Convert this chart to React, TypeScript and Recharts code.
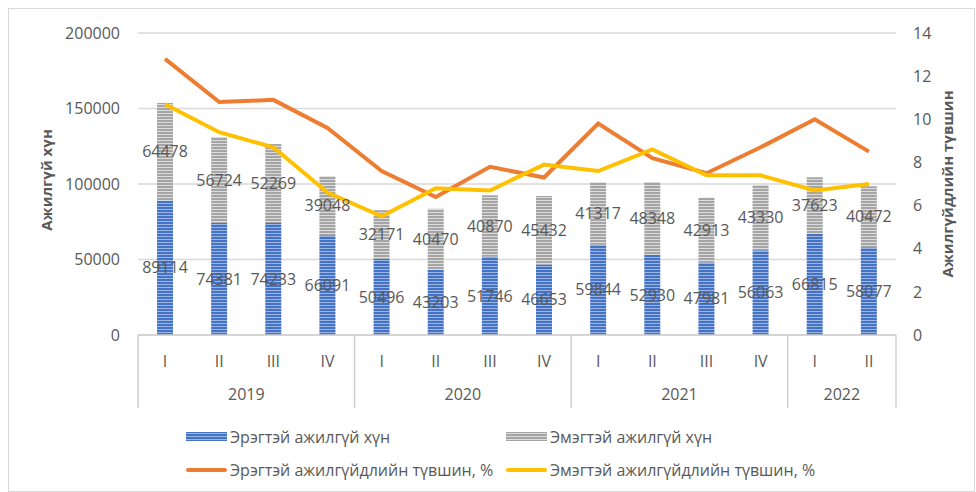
import { ComposedChart, Bar, Line, XAxis, YAxis, CartesianGrid, LabelList } from 'recharts';

const quarters = ['I', 'II', 'III', 'IV', 'I', 'II', 'III', 'IV', 'I', 'II', 'III', 'IV', 'I', 'II'];
const years = ['2019', '2019', '2019', '2019', '2020', '2020', '2020', '2020', '2021', '2021', '2021', '2021', '2022', '2022'];
const maleUnemployed = [89114, 74381, 74233, 66091, 50496, 43203, 51746, 46653, 59844, 52930, 47981, 56063, 66815, 58077];
const femaleUnemployed = [64478, 56724, 52269, 39048, 32171, 40470, 40870, 45432, 41317, 48348, 42913, 43330, 37623, 40472];
const maleRate = [12.8, 10.8, 10.9, 9.6, 7.6, 6.4, 7.8, 7.3, 9.8, 8.2, 7.5, 8.7, 10.0, 8.5];
const femaleRate = [10.7, 9.4, 8.7, 6.6, 5.5, 6.8, 6.7, 7.9, 7.6, 8.6, 7.4, 7.4, 6.7, 7.0];
const leftTicks = [0, 50000, 100000, 150000, 200000];
const rightTicks = [0, 2, 4, 6, 8, 10, 12, 14];

const data = quarters.map((q, i) => ({
  key: `${years[i]}-${q}`,
  q,
  year: years[i],
  male: maleUnemployed[i],
  female: femaleUnemployed[i],
  maleRate: maleRate[i],
  femaleRate: femaleRate[i],
}));

const W = 976;
const H = 492;
const PLOT_LEFT = 138;
const PLOT_RIGHT = 896;
const PLOT_TOP = 33;
const PLOT_BOTTOM = 335;
const BAND = (PLOT_RIGHT - PLOT_LEFT) / data.length;
const TEXT = '#595959';
const FONT = '"Open Sans", sans-serif';
const AXIS_GRAY = '#d0d0d0';

const CategoryTick = ({ x, y, payload, index }: any) => {
  const i = index ?? payload.index;
  const year = years[i];
  const first = i === 0 || years[i - 1] !== year;
  const last = i === data.length - 1;
  const count = years.filter((v) => v === year).length;
  const left = x - BAND / 2;
  return (
    <g>
      <text x={x} y={y + 28} textAnchor="middle" dominantBaseline="middle" fill={TEXT} fontSize={16} fontFamily={FONT}>
        {quarters[i]}
      </text>
      {first && (
        <>
          <line x1={left} y1={y} x2={left} y2={y + 73} stroke={AXIS_GRAY} strokeWidth={1.5} />
          <text x={left + (count * BAND) / 2} y={y + 61} textAnchor="middle" dominantBaseline="middle" fill={TEXT} fontSize={16} fontFamily={FONT}>
            {year}
          </text>
        </>
      )}
      {last && <line x1={x + BAND / 2} y1={y} x2={x + BAND / 2} y2={y + 73} stroke={AXIS_GRAY} strokeWidth={1.5} />}
    </g>
  );
};

const legendItems = [
  { label: 'Эрэгтэй ажилгүй хүн', kind: 'bar', color: 'url(#maleStripe)', left: 185, top: 428 },
  { label: 'Эмэгтэй ажилгүй хүн', kind: 'bar', color: 'url(#femaleStripe)', left: 505, top: 428 },
  { label: 'Эрэгтэй ажилгүйдлийн түвшин, %', kind: 'line', color: '#ED7D31', left: 185, top: 461 },
  { label: 'Эмэгтэй ажилгүйдлийн түвшин, %', kind: 'line', color: '#FFC000', left: 505, top: 461 },
];

export default function App() {
  return (
    <div style={{ position: 'absolute', left: 0, top: 0, width: W, height: H, background: '#fff', fontFamily: FONT }}>
      <div style={{ position: 'absolute', left: 8, top: 8, width: W - 9, height: H - 8, border: '1px solid #d9d9d9', boxSizing: 'border-box' }} />
      <ComposedChart
        width={W}
        height={H}
        data={data}
        margin={{ top: PLOT_TOP, right: 0, left: 0, bottom: H - PLOT_BOTTOM - 80 }}
        barSize={16}
        style={{ position: 'absolute', left: 0, top: 0 }}
      >
        <defs>
          <pattern id="maleStripe" width="4" height="3" patternUnits="userSpaceOnUse">
            <rect x="0" y="0" width="4" height="3" fill="#4472C4" />
            <rect x="0" y="2" width="4" height="1" fill="#9DB5E3" />
          </pattern>
          <pattern id="femaleStripe" width="4" height="3" patternUnits="userSpaceOnUse">
            <rect x="0" y="0" width="4" height="3" fill="#A5A5A5" />
            <rect x="0" y="2" width="4" height="1" fill="#DCDCDC" />
          </pattern>
        </defs>
        <CartesianGrid yAxisId="left" vertical={false} stroke="#d9d9d9" strokeWidth={1.5} />
        <XAxis
          dataKey="key"
          height={80}
          interval={0}
          tickLine={false}
          tickSize={0}
          tickMargin={0}
          axisLine={{ stroke: AXIS_GRAY, strokeWidth: 1.5 }}
          tick={(props: any) => <CategoryTick {...props} />}
        />
        <YAxis
          yAxisId="left"
          width={PLOT_LEFT}
          domain={[0, 200000]}
          ticks={leftTicks}
          axisLine={false}
          tickLine={false}
          tickSize={0}
          tickMargin={18}
          tick={{ fill: TEXT, fontSize: 16, fontFamily: FONT }}
          label={{
            value: 'Ажилгүй хүн',
            angle: -90,
            position: 'center',
            dx: -22,
            dy: -4,
            fill: TEXT,
            fontSize: 15,
            fontWeight: 700,
            fontFamily: FONT,
          }}
        />
        <YAxis
          yAxisId="right"
          orientation="right"
          width={W - PLOT_RIGHT}
          domain={[0, 14]}
          ticks={rightTicks}
          axisLine={false}
          tickLine={false}
          tickSize={0}
          tickMargin={17}
          tick={{ fill: TEXT, fontSize: 16, fontFamily: FONT }}
          label={{
            value: 'Ажилгүйдлийн түвшин',
            angle: -90,
            position: 'center',
            dx: 12,
            fill: TEXT,
            fontSize: 15,
            fontWeight: 700,
            fontFamily: FONT,
          }}
        />
        <Bar yAxisId="left" dataKey="male" stackId="a" fill="url(#maleStripe)" isAnimationActive={false}>
          <LabelList dataKey="male" position="center" fill={TEXT} fontSize={16} fontFamily={FONT} />
        </Bar>
        <Bar yAxisId="left" dataKey="female" stackId="a" fill="url(#femaleStripe)" isAnimationActive={false}>
          <LabelList dataKey="female" position="center" fill={TEXT} fontSize={16} fontFamily={FONT} />
        </Bar>
        <Line yAxisId="right" dataKey="maleRate" stroke="#ED7D31" strokeWidth={4} dot={false} isAnimationActive={false} />
        <Line yAxisId="right" dataKey="femaleRate" stroke="#FFC000" strokeWidth={4} dot={false} isAnimationActive={false} />
      </ComposedChart>
      {legendItems.map((item) => (
        <div key={item.label} style={{ position: 'absolute', left: item.left, top: item.top, height: 18, display: 'flex', alignItems: 'center', color: TEXT, fontSize: 16, whiteSpace: 'nowrap' }}>
          <svg width={43} height={18} style={{ marginRight: 2 }}>
            {item.kind === 'bar' ? (
              <rect x={1} y={4} width={41} height={9} fill={item.color} />
            ) : (
              <line x1={3} y1={9} x2={40} y2={9} stroke={item.color} strokeWidth={4} strokeLinecap="round" />
            )}
          </svg>
          {item.label}
        </div>
      ))}
    </div>
  );
}
